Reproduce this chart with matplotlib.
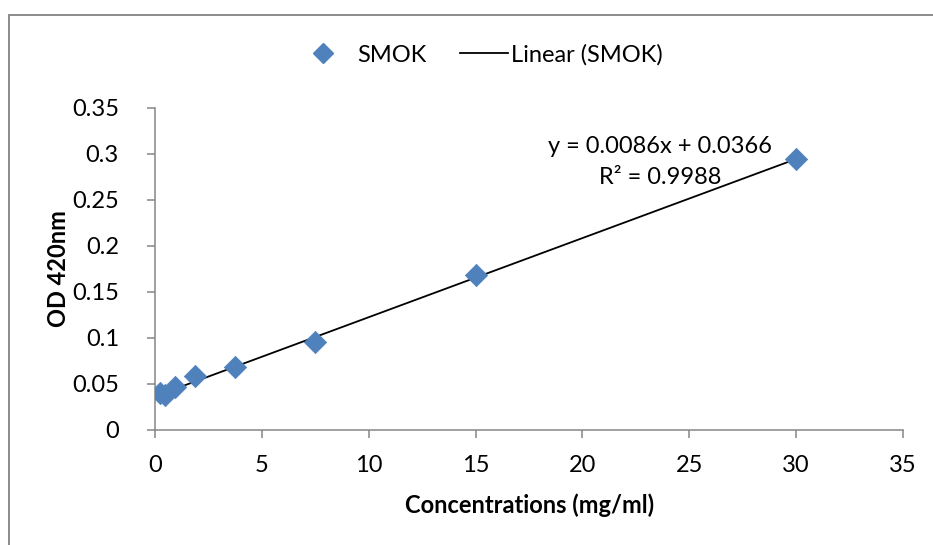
import matplotlib
matplotlib.use("Agg")
import matplotlib.pyplot as plt
from matplotlib.lines import Line2D
from matplotlib.patches import Rectangle
from matplotlib.ticker import FuncFormatter, MultipleLocator
import numpy as np

# Standard curve data
concentrations = [0.234, 0.469, 0.938, 1.875, 3.75, 7.5, 15, 30]
od_420 = [0.040, 0.038, 0.047, 0.059, 0.068, 0.096, 0.168, 0.295]

# Linear trendline parameters
slope = 0.0086
intercept = 0.0366
r_squared = 0.9988

series_name = "SMOK"
x_label = "Concentrations (mg/ml)"
y_label = "OD 420nm"

plt.rcParams["font.family"] = ["Lato", "DejaVu Sans"]
FS = 17
BLUE = "#4F81BD"
GRAY = "#868686"

fig = plt.figure(figsize=(9.33, 5.45), dpi=100)
W, H = 933, 545

# chart area border
fig.patches.append(Rectangle((8.5 / W, -0.1), 1.2, 1 - 14.5 / H + 0.1,
                             transform=fig.transFigure, fill=False,
                             edgecolor="#8a8a8a", linewidth=1.4))

ax = fig.add_axes([155 / W, 1 - 430 / H, 748 / W, 322 / H])

ax.scatter(concentrations, od_420, marker="D", s=130, color=BLUE,
           edgecolors=BLUE, linewidths=0.5, zorder=3)

xs = np.array([min(concentrations), max(concentrations)])
ax.plot(xs, slope * xs + intercept, color="black", linewidth=1.3, zorder=2)

ax.set_xlim(0, 35)
ax.set_ylim(0, 0.35)
ax.xaxis.set_major_locator(MultipleLocator(5))
ax.yaxis.set_major_locator(MultipleLocator(0.05))
ax.xaxis.set_major_formatter(FuncFormatter(lambda v, p: f"{v:g}"))
ax.yaxis.set_major_formatter(FuncFormatter(lambda v, p: f"{round(v, 2):g}"))

for side in ("top", "right"):
    ax.spines[side].set_visible(False)
for side in ("left", "bottom"):
    ax.spines[side].set_color(GRAY)
    ax.spines[side].set_linewidth(1.1)

ax.tick_params(axis="both", direction="out", length=6, width=1.1,
               color=GRAY, labelsize=FS, labelcolor="black")
ax.tick_params(axis="y", pad=20)
ax.tick_params(axis="x", pad=12)

ax.set_xlabel(x_label, fontsize=FS, fontweight="bold", va="center")
ax.xaxis.set_label_coords(0.501, -0.233)
ax.set_ylabel(y_label, fontsize=FS, fontweight="bold", va="center")
ax.yaxis.set_label_coords((59 - 155) / 748, 0.50)

ax.text(0.675, 0.879, f"y = {slope}x + {intercept}", transform=ax.transAxes,
        ha="center", va="center", fontsize=FS)
ax.text(0.676, 0.783, f"R² = {r_squared}", transform=ax.transAxes,
        ha="center", va="center", fontsize=FS)

# legend: marker entry and trendline entry
h1 = Line2D([], [], linestyle="none", marker="D", markersize=10,
            color=BLUE)
h2 = Line2D([], [], color="black", linewidth=1.3)
leg_y = 1 - 55 / H
fig.legend([h1], [series_name], loc="center left",
           bbox_to_anchor=(311 / W, leg_y), frameon=False, fontsize=FS,
           handlelength=1.0, handletextpad=0.95, borderpad=0,
           borderaxespad=0)
fig.legend([h2], [f"Linear ({series_name})"], loc="center left",
           bbox_to_anchor=(460 / W, leg_y), frameon=False, fontsize=FS,
           handlelength=2.05, handletextpad=0.1, borderpad=0,
           borderaxespad=0)

fig.savefig("out.png", dpi=100)
